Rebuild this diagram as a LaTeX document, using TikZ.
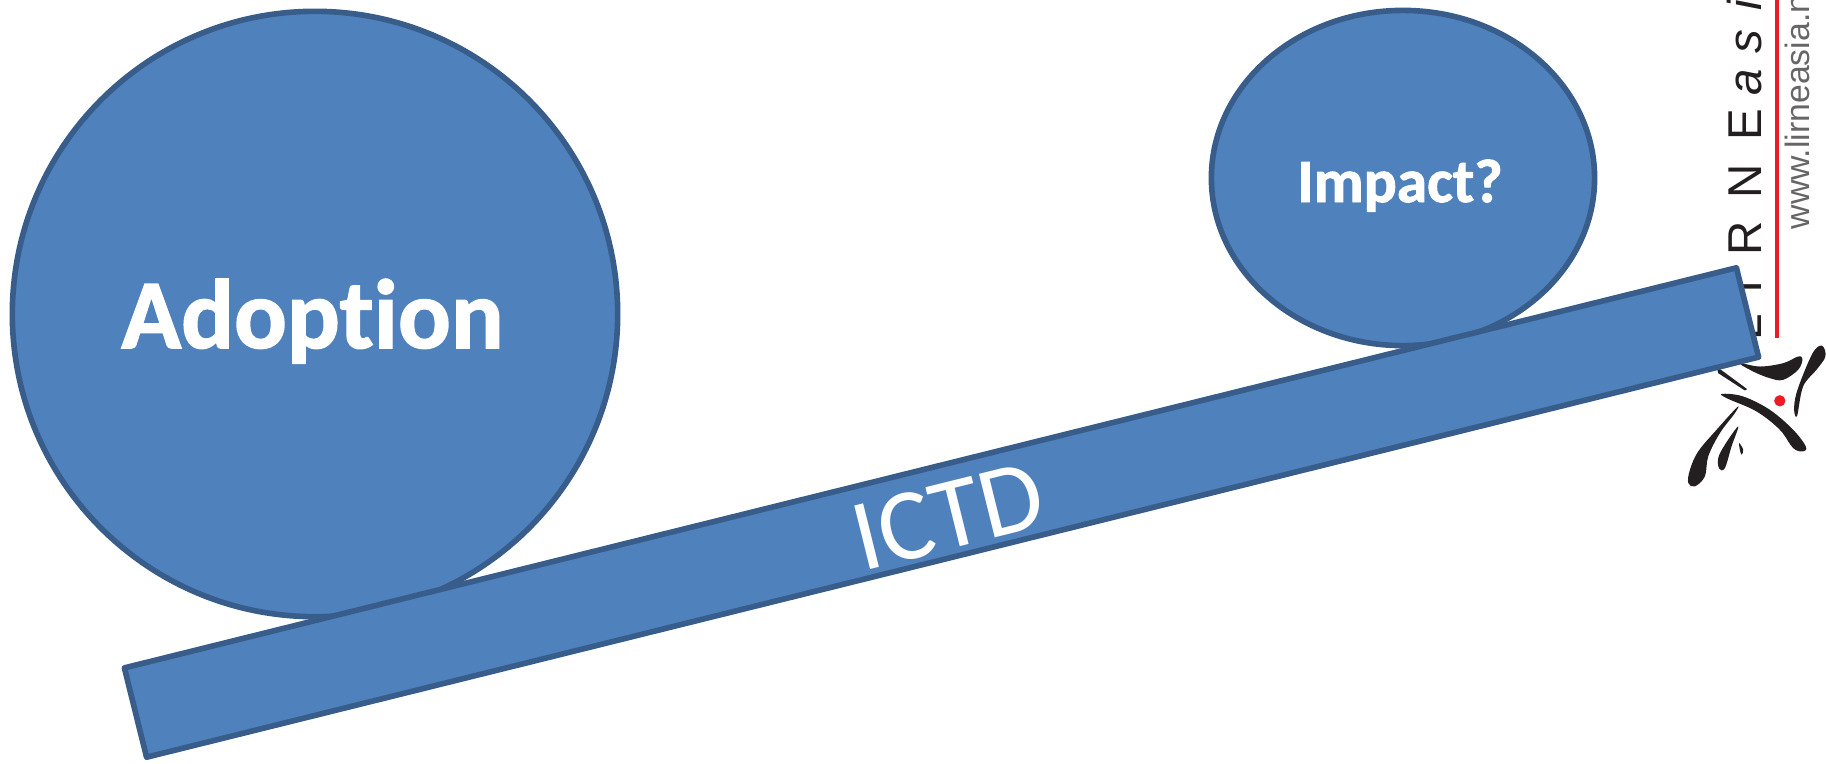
\documentclass[tikz,border=0pt]{standalone}
\usepackage{fontspec}
\setmainfont[Ligatures=NoCommon,BoldFeatures={FakeBold=1.5}]{Carlito}
\newfontfamily\logofont{Liberation Sans}
\usetikzlibrary{shapes.geometric}
\definecolor{blobfill}{HTML}{4F81BD}
\definecolor{blobline}{HTML}{385D8A}
\definecolor{logored}{HTML}{ED1C24}
\definecolor{logoblack}{HTML}{231F20}
\tikzset{
  blob/.style={draw=blobline,fill=blobfill,line width=1.6pt,line join=round,inner sep=0pt,outer sep=0pt},
  blobtext/.style={text=white,inner sep=0pt,anchor=base},
  logoletter/.style={rotate=90,anchor=base,inner sep=0pt,text=logoblack},
  logoshape/.style={fill=logoblack,draw=none}
}
\begin{document}
\begin{tikzpicture}[x=0.01cm,y=-0.01cm]
\clip (0,0) rectangle (1826,763);
% logo behind the bar
\foreach \y/\letter in {327/L,287/I,238/R,181/N,125/E}{ \node[logoletter,font=\logofont\fontsize{13.5}{13.5}\selectfont] (letter\letter) at (1761,\y) {\letter}; }
\foreach \y/\letter in {82/a,42/s,5/i}{ \node[logoletter,font=\logofont\itshape\fontsize{13.5}{13.5}\selectfont] (letter\letter) at (1761,\y) {\letter}; }
\draw[logored,line width=0.9pt] (1777,0) -- (1777,338);
\node[rotate=90,anchor=base west,inner sep=0pt,text=black!60,font=\logofont\fontsize{9.6}{9.6}\selectfont] (url) at (1809,230) {www.lirneasia.net};
\begin{scope}[shift={(1660,270)},x=0.00333cm,y=-0.00333cm]
\fill[logoshape] plot[smooth cycle,tension=0.6] coordinates {(240,280) (300,290) (370,280) (415,260) (428,268) (415,300) (370,330) (330,325) (280,305)};
\fill[logoshape] (170,290) -- (262,358) -- (255,362) -- (175,310) -- cycle;
\fill[logoshape] plot[smooth cycle,tension=0.6] coordinates {(488,228) (497,260) (470,300) (430,350) (412,438) (403,420) (410,370) (440,290) (465,240)};
\fill[logoshape] plot[smooth cycle,tension=0.6] coordinates {(187,372) (250,380) (330,420) (400,480) (438,530) (430,545) (400,535) (360,480) (290,425) (200,385)};
\fill[logoshape] plot[smooth cycle,tension=0.6] coordinates {(232,412) (225,430) (180,490) (145,560) (135,620) (105,650) (85,640) (90,600) (115,545) (170,480)};
\fill[logoshape] plot[smooth cycle,tension=0.6] coordinates {(235,470) (215,530) (195,595) (178,597) (175,565) (195,525)};
\fill[logoshape] plot[smooth cycle,tension=0.6] coordinates {(238,520) (250,540) (245,555) (240,540)};
\fill[logored] (360,393) circle (17);
\end{scope}
% shapes
\node[blob,ellipse,minimum width=6.05cm,minimum height=6.05cm] (adoption) at (315,314) {};
\node[blob,ellipse,minimum width=3.83cm,minimum height=3.35cm] (impact) at (1403,178) {};
\node[blob,rectangle,rotate=13.94,minimum width=16.6cm,minimum height=0.92cm] (bar) at (941.5,512.5) {};
\node[blobtext,font=\bfseries\fontsize{28}{28}\selectfont] (adoptionlabel) at (312.5,348) {Adoption};
\node[blobtext,font=\bfseries\fontsize{17.5}{17.5}\selectfont] (impactlabel) at (1400,202) {Impact?};
\node[blobtext,rotate=13.94,font=\fontsize{29}{29}\selectfont] (ictdlabel) at (956,548) {ICTD};
\end{tikzpicture}
\end{document}
